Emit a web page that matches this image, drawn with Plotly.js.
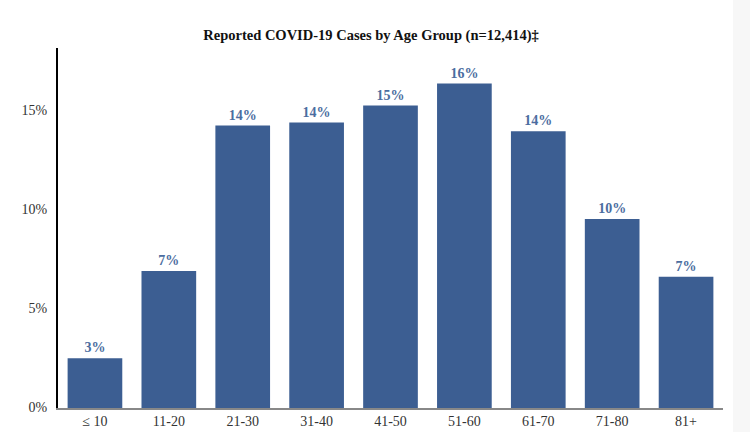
<!DOCTYPE html>
<html>
<head>
<meta charset="utf-8">
<script src="https://cdn.plot.ly/plotly-3.0.1.min.js"></script>
<style>html,body{margin:0;padding:0;background:#fff;}#chart{width:750px;height:432px;}</style>
</head>
<body>
<div id="chart"></div>
<script>
const ageGroups = ['≤ 10', '11-20', '21-30', '31-40', '41-50', '51-60', '61-70', '71-80', '81+'];
const casePercent = [2.51, 6.93, 14.28, 14.43, 15.29, 16.4, 13.99, 9.56, 6.63];
const yTickValues = [0, 5, 10, 15];
const yTickLabels = ['0%', '5%', '10%', '15%'];

const serif = '"Liberation Serif", "Times New Roman", serif';

const trace = {
  type: 'bar',
  x: ageGroups,
  y: casePercent,
  marker: {color: '#3c5e92', line: {width: 0}},
  texttemplate: '%{y:.0f}%',
  textposition: 'outside',
  cliponaxis: false,
  textfont: {family: serif, size: 14, color: '#4b6da0', weight: 'bold'},
  hoverinfo: 'skip'
};

const layout = {
  width: 750,
  height: 432,
  margin: {l: 58, r: 27, t: 48, b: 24},
  paper_bgcolor: '#ffffff',
  plot_bgcolor: '#ffffff',
  showlegend: false,
  bargap: 0.26,
  title: {
    text: '<b>Reported COVID-19 Cases by Age Group (n=12,414)‡</b>',
    font: {family: serif, size: 14.5, color: '#111'},
    x: 371 / 750, xref: 'container', xanchor: 'center',
    y: 1 - 35 / 432, yref: 'container', yanchor: 'middle'
  },
  xaxis: {
    type: 'category',
    showgrid: false,
    zeroline: false,
    showline: true,
    linecolor: '#888',
    linewidth: 1.5,
    ticks: '',
    tickfont: {family: serif, size: 14, color: '#333'},
    automargin: false,
    fixedrange: true
  },
  yaxis: {
    range: [0, 18.2],
    tickvals: yTickValues,
    ticktext: yTickLabels,
    showgrid: false,
    zeroline: false,
    showline: true,
    linecolor: '#000',
    linewidth: 2,
    ticks: '',
    ticklabelstandoff: 6,
    ticklabelshift: -1,
    tickfont: {family: serif, size: 14, color: '#333'},
    automargin: false,
    fixedrange: true
  },
  shapes: [{
    type: 'rect', xref: 'paper', yref: 'paper',
    x0: 1 + 10 / 665, x1: 1 + 27 / 665, y0: -24 / 360, y1: 1 + 48 / 360,
    fillcolor: '#f7f7f7', line: {width: 0}, layer: 'below'
  }]
};

Plotly.newPlot('chart', [trace], layout, {displayModeBar: false, staticPlot: true});
</script>
</body>
</html>
